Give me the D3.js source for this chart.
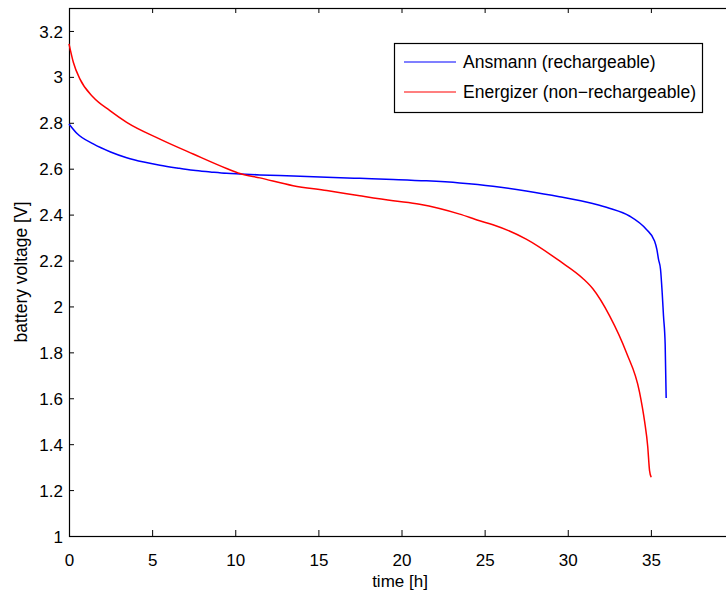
<!DOCTYPE html>
<html>
<head>
<meta charset="utf-8">
<script src="https://cdn.jsdelivr.net/npm/d3@7"></script>
<style>
  body { margin: 0; background: #fff; }
  svg { display: block; font-family: "Liberation Sans", Arial, Helvetica, sans-serif; }
</style>
</head>
<body>
<svg width="726" height="592"></svg>
<script>
// values
var ansmannTime = [0, 0.5, 1.46, 2.5, 3.47, 4.5, 5.47, 6.5, 7.47, 8.5, 9.48, 10.28, 11.48, 13.5, 15.5, 17.49, 19.5, 21.5, 23.5, 25.5, 27.5, 29.5, 31.5, 32.5, 33.71, 34.72, 35.22, 35.36, 35.46, 35.58, 35.68, 35.76, 35.86, 35.92];
var ansmannVolt = [2.795, 2.752, 2.708, 2.673, 2.648, 2.629, 2.615, 2.603, 2.593, 2.586, 2.58, 2.577, 2.573, 2.568, 2.563, 2.558, 2.553, 2.547, 2.538, 2.524, 2.503, 2.478, 2.448, 2.428, 2.394, 2.336, 2.285, 2.249, 2.205, 2.162, 2.06, 1.958, 1.834, 1.601];

var energizerTime = [0, 0.26, 0.66, 1.46, 2.46, 3.47, 5.47, 7.47, 9.48, 10.28, 11.48, 13.48, 15.5, 17.49, 19.5, 21.09, 23.5, 24.7, 25.5, 27.5, 29.51, 30.91, 31.51, 32.51, 33.52, 34.32, 34.62, 34.81, 34.92, 35.02];
var energizerVolt = [3.144, 3.064, 2.99, 2.911, 2.853, 2.802, 2.729, 2.664, 2.601, 2.579, 2.56, 2.526, 2.505, 2.482, 2.46, 2.445, 2.402, 2.373, 2.356, 2.293, 2.198, 2.122, 2.077, 1.96, 1.8, 1.626, 1.5, 1.39, 1.285, 1.256];

var seriesNames = ["Ansmann (rechargeable)", "Energizer (non\u2212rechargeable)"];
var seriesColors = ["#0000ff", "#ff0000"];

var xTicks = [0, 5, 10, 15, 20, 25, 30, 35];
var yTicks = [1, 1.2, 1.4, 1.6, 1.8, 2, 2.2, 2.4, 2.6, 2.8, 3, 3.2];

var svg = d3.select("svg"),
    width = +svg.attr("width"),
    height = +svg.attr("height");

// plot box (right edge sits just past the window, like the original)
var pLeft = 69, pTop = 8, pRight = 734, pBottom = 536;

var x = d3.scaleLinear().domain([0, 40]).range([pLeft, pRight]);
var y = d3.scaleLinear().domain([1, 3.3]).range([pBottom, pTop]);

function zip(ts, vs) {
    return ts.map(function(t, i) { return {t: t, v: vs[i]}; });
}
var series = [zip(ansmannTime, ansmannVolt), zip(energizerTime, energizerVolt)];

var fmt = function(d) { return String(+d.toFixed(1)); };

// bottom + top axes, ticks pointing inward
var xb = svg.append("g")
    .attr("transform", "translate(0," + pBottom + ")")
    .call(d3.axisBottom(x).tickValues(xTicks).tickSizeInner(-6).tickSizeOuter(0).tickFormat(fmt));
xb.selectAll("text").attr("y", 30).attr("dy", null);

svg.append("g")
    .attr("transform", "translate(0," + pTop + ")")
    .call(d3.axisTop(x).tickValues(xTicks).tickSizeInner(-5).tickSizeOuter(0).tickFormat(""));

var yl = svg.append("g")
    .attr("transform", "translate(" + pLeft + ",0)")
    .call(d3.axisLeft(y).tickValues(yTicks).tickSizeInner(-5).tickSizeOuter(0).tickFormat(fmt));
yl.selectAll("text").attr("x", -6).attr("dy", "0.36em");

svg.selectAll(".domain").remove();
svg.selectAll(".tick line").attr("stroke", "#000");
svg.selectAll(".tick text")
    .attr("fill", "#000")
    .style("font-size", "17px")
    .style("font-family", "'Liberation Sans', Arial, sans-serif");

// box
svg.append("rect")
    .attr("x", pLeft + 0.5).attr("y", pTop + 0.5)
    .attr("width", pRight - pLeft).attr("height", pBottom - pTop)
    .attr("fill", "none").attr("stroke", "#000").attr("stroke-width", 1.2);

// lines
var line = d3.line()
    .x(function(d) { return x(d.t); })
    .y(function(d) { return y(d.v); })
    .curve(d3.curveMonotoneX);

svg.append("g").selectAll("path")
    .data(series)
    .enter().append("path")
    .attr("d", line)
    .attr("fill", "none")
    .attr("stroke", function(d, i) { return seriesColors[i]; })
    .attr("stroke-width", 1.5);

// axis labels
svg.append("text")
    .attr("x", 400).attr("y", 587)
    .attr("text-anchor", "middle")
    .style("font-size", "17px")
    .text("time [h]");

svg.append("text")
    .attr("transform", "translate(27," + ((pTop + pBottom) / 2) + ") rotate(-90)")
    .attr("text-anchor", "middle")
    .style("font-size", "17.5px")
    .text("battery voltage [V]");

// legend
var lg = svg.append("g");
lg.append("rect")
    .attr("x", 394.5).attr("y", 43.5)
    .attr("width", 308).attr("height", 69)
    .attr("fill", "#fff").attr("stroke", "#000").attr("stroke-width", 1.2);

seriesNames.forEach(function(name, i) {
    var ly = 62 + i * 30;
    lg.append("line")
        .attr("x1", 404).attr("x2", 456)
        .attr("y1", ly).attr("y2", ly)
        .attr("stroke", seriesColors[i]).attr("stroke-width", 1.2);
    lg.append("text")
        .attr("x", 463).attr("y", ly + 6)
        .style("font-size", "17.5px")
        .text(name);
});
</script>
</body>
</html>
